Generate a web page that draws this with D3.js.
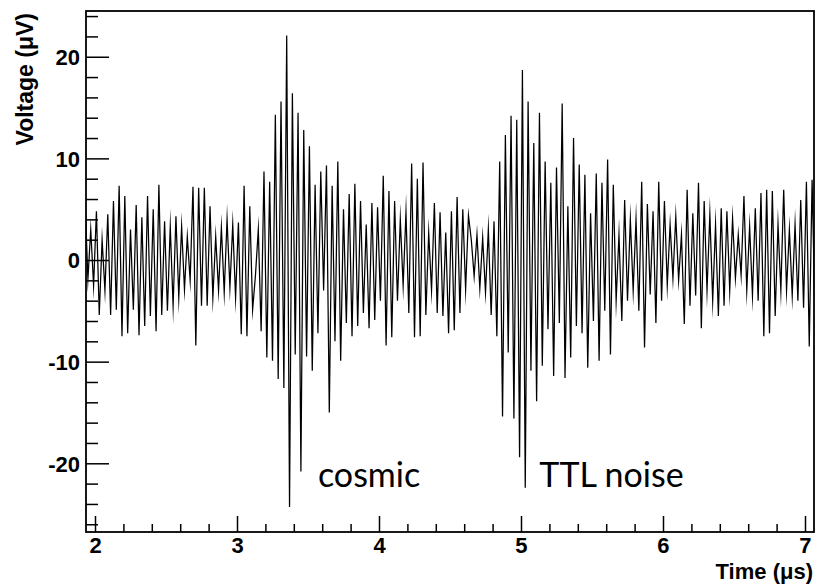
<!DOCTYPE html>
<html><head><meta charset="utf-8">
<script src="https://cdn.jsdelivr.net/npm/d3@7"></script>
<style>body{margin:0;background:#fff} svg{display:block}</style>
</head><body><svg id="c" width="816" height="585"></svg>
<script>
// ---- data ----
const sampleStart = 1.93;   // time of first sample (µs)
const sampleStep = 0.02;    // sample spacing (µs)
const voltages = [
  5.9,-1.9,3.0,-2.5,4.8,-5.4,2.0,-3.0,4.5,-5.4,
  5.8,-4.9,7.3,-7.5,6.3,-7.2,3.0,-4.9,5.4,-7.4,
  4.2,-6.5,6.3,-5.5,5.0,-7.0,7.4,-5.4,3.8,-5.0,
  3.3,-4.5,4.3,-3.7,3.3,-2.9,2.3,-2.0,7.2,-8.4,
  7.1,-4.5,7.1,-4.5,5.3,-3.7,2.3,-3.0,3.2,-3.2,
  4.0,-2.7,3.5,-3.7,3.7,-7.3,7.3,-7.5,5.3,-4.9,
  -1.5,3.0,-7.0,8.7,-9.6,7.7,-9.9,14.3,-11.7,15.6,
  -12.6,22.1,-24.3,16.4,-9.3,14.5,-20.8,12.8,-9.5,11.2,
  -10.9,7.4,-7.2,8.7,-3.0,9.3,-15.0,7.3,-8.0,9.7,
  -9.9,5.0,-6.2,6.5,-7.5,7.5,-6.5,5.8,-5.2,3.5,
  -6.7,5.6,-5.9,5.2,-4.0,8.3,-8.4,6.8,-7.6,5.8,
  -4.0,4.0,-2.5,4.7,-5.2,9.5,-7.6,8.0,-7.5,9.6,
  -5.4,2.7,-3.0,5.6,-5.2,4.7,-5.5,2.7,-7.2,4.8,
  -6.9,6.2,-5.2,5.0,-2.9,4.4,2.0,-1.6,2.5,-2.8,
  2.2,-3.2,3.0,-5.4,3.8,-7.5,9.7,-15.4,12.3,-9.1,
  14.2,-15.6,13.8,-19.4,18.7,-22.4,15.6,-10.9,11.5,-13.9,
  14.5,-10.4,9.7,-6.8,7.6,-11.4,9.1,-6.2,15.4,-11.6,
  5.3,-9.6,12.0,-6.5,9.4,-7.2,8.4,-10.6,4.6,-6.0,
  8.5,-9.9,7.6,-5.0,9.9,-9.3,7.4,-4.0,2.5,-6.0,
  5.9,-4.0,4.0,-3.0,4.0,-5.0,7.7,-8.6,5.5,-3.4,
  4.8,-6.2,7.7,-4.0,5.8,-2.5,3.5,-1.8,4.3,-2.0,
  2.5,-6.3,6.9,-4.5,4.6,-3.5,7.6,-6.7,5.8,-3.0,
  4.5,-4.0,3.5,-5.5,5.1,-4.5,4.8,-3.0,4.1,-1.8,
  2.5,-1.5,6.3,-3.0,3.3,-3.5,5.1,-4.0,6.6,-7.5,
  6.9,-7.2,6.8,-5.5,3.5,-3.0,6.9,-3.0,3.0,-3.5,
  3.5,-4.0,5.9,-4.7,7.7,-8.5,7.9,-5.0
];
const xMajorTicks = [2, 3, 4, 5, 6, 7];
const xMinorTicks = [2.2,2.4,2.6,2.8,3.2,3.4,3.6,3.8,4.2,4.4,4.6,4.8,5.2,5.4,5.6,5.8,6.2,6.4,6.6,6.8];
const yMajorTicks = [-20, -10, 0, 10, 20];
const yMinorTicks = [-26,-24,-22,-18,-16,-14,-12,-8,-6,-4,-2,2,4,6,8,12,14,16,18,22,24];
const xDomain = [1.9366, 7.0634];
const yDomain = [-26.76, 24.5];
const xTitle = "Time (\u03bcs)";
const yTitle = "Voltage (\u03bcV)";
const annotationTexts = ["cosmic", "TTL noise"];
const annotationTimes = [3.57, 5.129];
const annotationVolts = [-22.3, -22.3];

// ---- drawing ----
const L = 86, R = 814, T = 11, B = 532;
const svg = d3.select("#c");
const x = d3.scaleLinear().domain(xDomain).range([L, R]);
const y = d3.scaleLinear().domain(yDomain).range([B, T]);

svg.append("rect").attr("width", 816).attr("height", 585).attr("fill", "#fff");

svg.append("defs").append("clipPath").attr("id", "clip")
  .append("rect").attr("x", L).attr("y", T).attr("width", R - L).attr("height", B - T);

const line = d3.line()
  .x((d, i) => x(sampleStart + i * sampleStep))
  .y(d => y(d));

svg.append("path").datum(voltages)
  .attr("clip-path", "url(#clip)")
  .attr("d", line)
  .attr("fill", "none").attr("stroke", "#000").attr("stroke-width", 1.25)
  .attr("stroke-linejoin", "miter").attr("stroke-miterlimit", 30);

const tickFont = "'Liberation Sans', Arial, Helvetica, sans-serif";

// y axis (ticks inside)
const yAxisMajor = d3.axisLeft(y).tickValues(yMajorTicks).tickSize(-23).tickSizeOuter(0)
  .tickPadding(6).tickFormat(d => String(d));
const gy = svg.append("g").attr("transform", `translate(${L},0)`).call(yAxisMajor);
const yAxisMinor = d3.axisLeft(y).tickValues(yMinorTicks).tickSize(-12).tickSizeOuter(0).tickFormat("");
const gy2 = svg.append("g").attr("transform", `translate(${L},0)`).call(yAxisMinor);

// x axis (ticks inside)
const xAxisMajor = d3.axisBottom(x).tickValues(xMajorTicks).tickSize(-16).tickSizeOuter(0)
  .tickPadding(5).tickFormat(d => String(d));
const gx = svg.append("g").attr("transform", `translate(0,${B})`).call(xAxisMajor);
const xAxisMinor = d3.axisBottom(x).tickValues(xMinorTicks).tickSize(-8).tickSizeOuter(0).tickFormat("");
const gx2 = svg.append("g").attr("transform", `translate(0,${B})`).call(xAxisMinor);

[gy, gy2, gx, gx2].forEach(g => {
  g.select(".domain").remove();
  g.selectAll(".tick line").attr("stroke", "#000").attr("stroke-width", 1.5);
  g.selectAll(".tick text").attr("fill", "#000")
    .style("font-family", tickFont).style("font-weight", "bold").style("font-size", "22px");
});
gy.selectAll(".tick text").attr("dy", "0.36em");

// frame
svg.append("rect").attr("x", L).attr("y", T).attr("width", R - L).attr("height", B - T)
  .attr("fill", "none").attr("stroke", "#000").attr("stroke-width", 1.8);

// axis titles
svg.append("text").attr("x", R - 1).attr("y", 579).attr("text-anchor", "end")
  .style("font-family", tickFont).style("font-weight", "bold").style("font-size", "22px")
  .text(xTitle);
svg.append("text").attr("transform", `translate(33,${T + 2}) rotate(-90)`).attr("text-anchor", "end")
  .style("font-family", tickFont).style("font-weight", "bold").style("font-size", "23px")
  .text(yTitle);

// annotations
annotationTexts.forEach((t, i) => {
  svg.append("text").attr("x", x(annotationTimes[i])).attr("y", y(annotationVolts[i]))
    .style("font-family", "Lato, 'Open Sans', sans-serif").style("font-size", "34px")
    .attr("fill", "#000").text(t);
});
</script></body></html>
